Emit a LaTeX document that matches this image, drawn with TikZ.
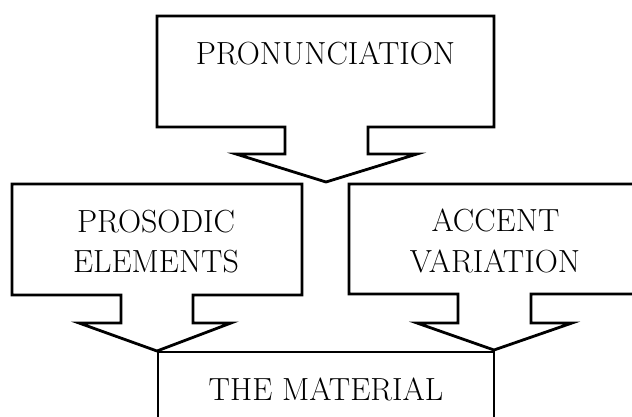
\documentclass[tikz,border=0pt]{standalone}
\begin{document}
\begin{tikzpicture}[x=1pt,y=-1pt,
  callout/.style={draw=black,line width=2.8pt,line join=miter,fill=white},
  lbl/.style={anchor=base,inner sep=0pt,font=\fontsize{32}{38}\selectfont}]
\useasboundingbox (0,0) rectangle (632,416);
\clip (0,0) rectangle (632,416);
% top callout
\draw[callout] (157,16) -- (494,16) -- (494,127) -- (368,127) -- (368,154) -- (417,154) -- (326,182) -- (236,154) -- (285,154) -- (285,127) -- (157,127) -- cycle;
% left callout
\draw[callout] (12,184) -- (302,184) -- (302,295) -- (193,295) -- (193,323) -- (231,323) -- (157,351) -- (79,323) -- (121,323) -- (121,295) -- (12,295) -- cycle;
% right callout
\draw[callout] (349,184) -- (640,184) -- (640,294) -- (531,294) -- (531,323) -- (572,323) -- (494,350) -- (417,323) -- (458,323) -- (458,294) -- (349,294) -- cycle;
% bottom box
\draw[callout,fill=none] (158,430) -- (158,352) -- (494,352) -- (494,430);
\node[lbl] (pron) at (325.5,64) {PRONUNCIATION};
\node[lbl] (pros1) at (156,232) {PROSODIC};
\node[lbl] (pros2) at (156,272) {ELEMENTS};
\node[lbl] (acc1) at (495.5,231) {ACCENT};
\node[lbl] (acc2) at (495,272) {VARIATION};
\node[lbl] (mat) at (326,400) {THE MATERIAL};
\end{tikzpicture}
\end{document}
